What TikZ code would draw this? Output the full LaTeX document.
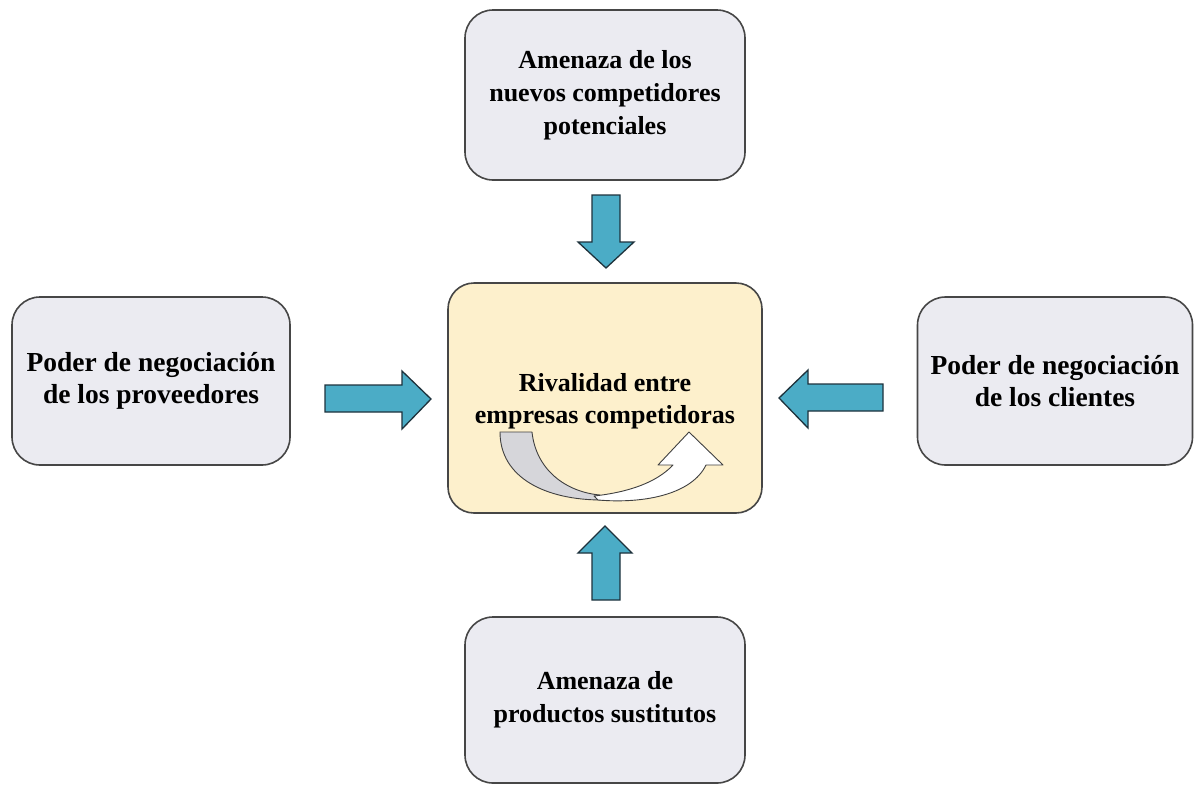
\documentclass[tikz,border=0pt]{standalone}
\usepackage{fontspec}
\setmainfont{Liberation Serif}
\definecolor{boxfill}{RGB}{235,235,241}
\definecolor{boxline}{RGB}{70,70,70}
\definecolor{cenfill}{RGB}{253,240,204}
\definecolor{arrfill}{RGB}{75,172,198}
\definecolor{arrline}{RGB}{30,50,60}
\definecolor{curvegray}{RGB}{214,214,218}
\begin{document}
\begin{tikzpicture}[x=1pt,y=-1pt,
  box/.style={draw=boxline, line width=1.6pt, fill=boxfill, rounded corners=28pt,
    inner sep=0pt, font=\fontsize{26}{33}\selectfont\bfseries, align=center, text=black},
  sidebox/.style={box, font=\fontsize{27.5}{32}\selectfont\bfseries},
  cbox/.style={box, fill=cenfill, rounded corners=26pt},
  lbl/.style={font=\fontsize{26}{32}\selectfont\bfseries, align=center, text=black, inner sep=0pt},
  blk/.style={draw=arrline, line width=1.3pt, fill=arrfill, line join=miter},
  crv/.style={draw=black!75, line width=0.9pt, line join=round}]
\useasboundingbox (0,0) rectangle (1196,785);
\fill[white] (0,0) rectangle (1196,785);

% boxes
\node[box, minimum width=280pt, minimum height=170pt] (top) at (605,95)
  {Amenaza de los\\nuevos competidores\\potenciales};
\node[sidebox, minimum width=278pt, minimum height=168pt] (left) at (151,381)
  {Poder de negociación\\de los proveedores};
\node[sidebox, minimum width=275pt, minimum height=168pt] (right) at (1055,381)
  {Poder de negociación\\de los clientes};
\node[box, minimum width=280pt, minimum height=166pt] (bottom) at (605,700)
  {Amenaza de\\productos sustitutos};
\node[cbox, minimum width=314pt, minimum height=230pt] (center) at (605,398) {};
\node[lbl] (centertext) at (605,401) {Rivalidad entre\\empresas competidoras};

% block arrows
% top -> center (down)
\draw[blk] (592,195) -- (620,195) -- (620,242) -- (634,242) -- (606,268)
  -- (578,242) -- (592,242) -- cycle;
% left -> center (right)
\draw[blk] (325,385) -- (402,385) -- (402,371) -- (431,399) -- (402,429)
  -- (402,412) -- (325,412) -- cycle;
% right -> center (left)
\draw[blk] (883,384) -- (808,384) -- (808,370) -- (779,398) -- (808,428)
  -- (808,411) -- (883,411) -- cycle;
% bottom -> center (up)
\draw[blk] (592,600) -- (592,553) -- (578,553) -- (605,526) -- (632,553)
  -- (620,553) -- (620,600) -- cycle;

% curved arrow inside the centre box
\draw[crv, fill=curvegray] (500,432) -- (532,432)
  .. controls (536,470) and (566,492) .. (600,495)
  -- (602,500)
  .. controls (546,500) and (500,478) .. (500,432) -- cycle;
\draw[crv, fill=white] (594,496)
  .. controls (630,492) and (657,482) .. (673,465)
  -- (658,465) -- (689,432) -- (723,465) -- (706,465)
  .. controls (692,494) and (645,504) .. (598,500) -- cycle;
\end{tikzpicture}
\end{document}
